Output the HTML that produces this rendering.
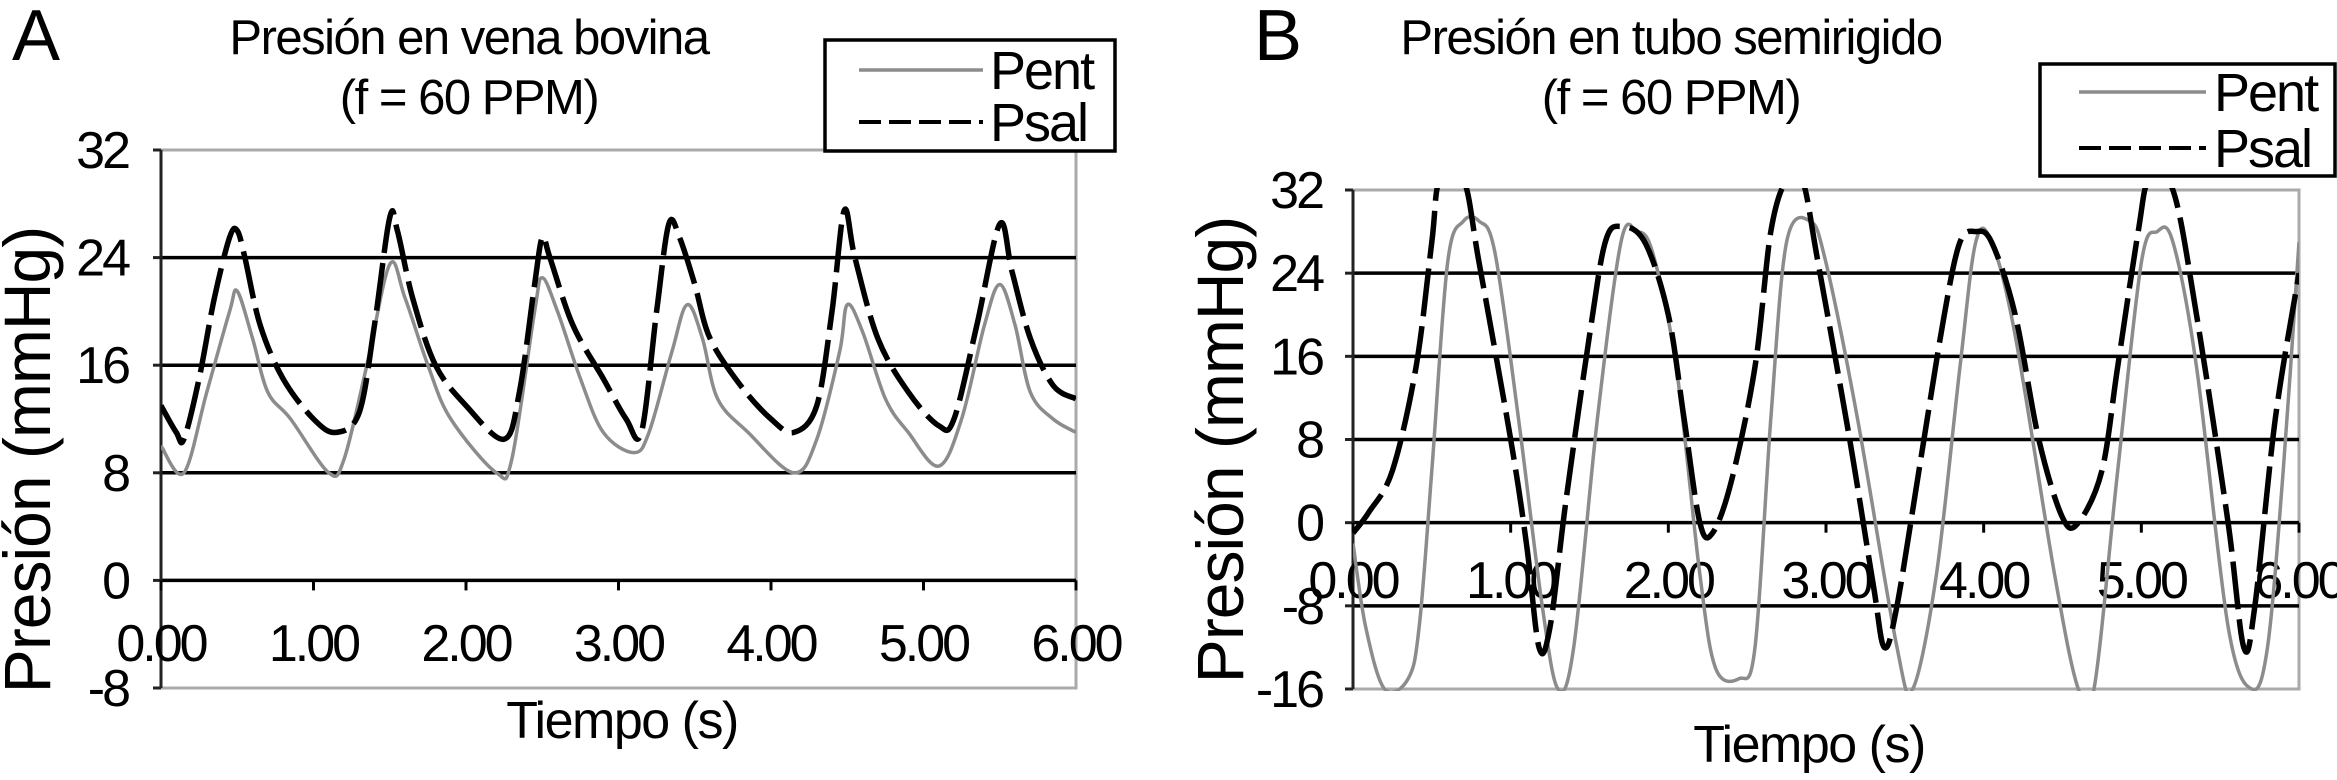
<!DOCTYPE html>
<html><head><meta charset="utf-8"><style>
html,body{margin:0;padding:0;background:#fff}
svg{display:block;font-family:"Liberation Sans",sans-serif}
</style></head><body>
<svg id="s" width="2337" height="780" viewBox="0 0 2337 780" xmlns="http://www.w3.org/2000/svg">
<g id="chartA"></g>
<g id="chartB"></g>
</svg>
<script>
// ---- Chart A data ----
const aPsalT=[0,0.1,0.15,0.25,0.35,0.45,0.5,0.55,0.65,0.8,1.0,1.15,1.3,1.4,1.5,1.55,1.65,1.8,2.0,2.25,2.35,2.45,2.5,2.55,2.7,2.9,3.05,3.15,3.25,3.33,3.4,3.5,3.6,3.8,4.0,4.15,4.3,4.4,4.48,4.55,4.7,4.9,5.1,5.2,5.35,5.5,5.58,5.7,5.85,6.0];
const aPsalV=[13,11,10.5,15,21,25.5,26,24,19,15,12,11,12.5,19,27,26,21,16,13,10.5,14,22,25.5,24,19,15,12,11,20,26.5,25.5,22,18,14.5,12,11,13,20,27.5,24,18,14,11.5,12,19,26.5,23,18,14.5,13.5];
const aPentT=[0,0.15,0.3,0.45,0.5,0.6,0.7,0.85,1.1,1.2,1.35,1.5,1.6,1.75,1.9,2.2,2.3,2.45,2.5,2.6,2.75,2.9,3.1,3.2,3.35,3.45,3.55,3.65,3.85,4.15,4.3,4.45,4.5,4.6,4.75,4.9,5.1,5.25,5.4,5.5,5.6,5.7,5.85,6.0];
const aPentV=[10,8,14,20,21.5,18,14,12,8,9,16,23.5,21,16,12,8,9,20,22.5,20,15,11,9.5,11,17,20.5,18,13.5,11,8,10.5,17,20.5,18.5,13.5,11,8.5,12,19,22,19,14,12,11];
const aYTicks=[32,24,16,8,0,-8];
const aXTicks=["0.00","1.00","2.00","3.00","4.00","5.00","6.00"];
// ---- Chart B data ----
const bPsalT=[0,0.1,0.25,0.4,0.5,0.55,0.7,0.8,1.0,1.1,1.18,1.25,1.35,1.5,1.6,1.7,1.85,2.0,2.1,2.2,2.28,2.4,2.55,2.65,2.75,2.85,2.95,3.15,3.3,3.37,3.45,3.6,3.75,3.85,3.95,4.05,4.2,4.35,4.5,4.6,4.75,4.85,4.98,5.05,5.2,5.35,5.55,5.65,5.72,5.85,6.0];
const bPsalV=[-1,1,5,15,27,33,33,25,8,-2,-12,-10,2,18,27,28.5,27,20,10,0,-1,4,15,28,33,33,25,8,-6,-12,-8,6,20,27,28,27,20,8,0.5,0,5,15,28,33,32,20,0,-12,-8,10,24];
const bPentT=[0,0.08,0.2,0.35,0.42,0.5,0.6,0.7,0.8,0.9,1.05,1.2,1.3,1.4,1.55,1.7,1.8,1.9,2.05,2.2,2.3,2.45,2.55,2.65,2.75,2.9,3.0,3.2,3.45,3.55,3.7,3.85,3.95,4.05,4.2,4.45,4.6,4.7,4.85,5.0,5.1,5.2,5.35,5.55,5.7,5.8,5.9,6.0];
const bPentV=[-2,-10,-16,-15,-10,5,25,29,29,26,10,-8,-16,-12,10,27,28,26,15,-5,-14,-15,-12,10,27,29,25,10,-12,-16,-5,15,27,27,18,-5,-16,-16,5,25,28,27,15,-10,-16,-12,5,27];
const bYTicks=[32,24,16,8,0,-8,-16];
const bXTicks=["0.00","1.00","2.00","3.00","4.00","5.00","6.00"];

const NS="http://www.w3.org/2000/svg";
function mk(p,tag,attrs,txt){const e=document.createElementNS(NS,tag);for(const k in attrs)e.setAttribute(k,attrs[k]);if(txt!==undefined)e.textContent=txt;p.appendChild(e);return e;}
function spline(pts){let d="M"+pts[0][0].toFixed(1)+","+pts[0][1].toFixed(1);
 for(let i=0;i<pts.length-1;i++){const p0=pts[Math.max(0,i-1)],p1=pts[i],p2=pts[i+1],p3=pts[Math.min(pts.length-1,i+2)];
  const c1x=p1[0]+(p2[0]-p0[0])/6,c1y=p1[1]+(p2[1]-p0[1])/6,c2x=p2[0]-(p3[0]-p1[0])/6,c2y=p2[1]-(p3[1]-p1[1])/6;
  d+=" C"+c1x.toFixed(1)+","+c1y.toFixed(1)+" "+c2x.toFixed(1)+","+c2y.toFixed(1)+" "+p2[0].toFixed(1)+","+p2[1].toFixed(1);}
 return d;}

function chart(g,o){
 const X=t=>o.x0+(o.x1-o.x0)*t/6;
 const Y=v=>o.yTop+(o.ymax-v)*(o.yBot-o.yTop)/(o.ymax-o.ymin);
 const cid="clip"+o.id;
 const defs=mk(g,"defs",{});const cp=mk(defs,"clipPath",{id:cid});mk(cp,"rect",{x:o.x0,y:o.yTop-2,width:o.x1-o.x0,height:o.yBot-o.yTop+4});
 let el=mk(g,"rect",{x:o.x0,y:o.yTop,width:o.x1-o.x0,height:o.yBot-o.yTop,fill:"none",stroke:"#aaa","stroke-width":3});
 
 
 for(const v of o.yTicks){
  const y=Y(v);
  if(v<o.ymax&&v>o.ymin){
   el=mk(g,"line",{x1:o.x0,x2:o.x1,y1:y,y2:y,stroke:"#000","stroke-width":3.5});
   
   
  }
  el=mk(g,"line",{x1:o.x0-8,x2:o.x0,y1:y,y2:y,stroke:"#222","stroke-width":3});
  
  
  el=mk(g,"text",{x:o.yLabX,y:y+18,"text-anchor":"end","font-size":52,"letter-spacing":-3},String(v));
  
  
 }
 el=mk(g,"line",{x1:o.x0,x2:o.x0,y1:o.yTop,y2:o.yBot,stroke:"#222","stroke-width":3});
 
 
 const y0=Y(0);
 o.xTicks.forEach((lab,i)=>{
  const x=X(i);
  el=mk(g,"line",{x1:x,x2:x,y1:y0,y2:y0+10,stroke:"#000","stroke-width":3});
  
  
  el=mk(g,"text",{x:x,y:o.xLabY+18,"text-anchor":"middle","font-size":52,"letter-spacing":-3},lab);
  
  
 });
 const cg=mk(g,"g",{"clip-path":"url(#"+cid+")"});
 el=mk(cg,"path",{d:spline(o.pentT.map((t,i)=>[X(t),Y(o.pentV[i])])),fill:"none",stroke:"#8c8c8c","stroke-width":3.5});
 
 
 el=mk(cg,"path",{d:spline(o.psalT.map((t,i)=>[X(t),Y(o.psalV[i])])),fill:"none",stroke:"#000","stroke-width":5.5,"stroke-dasharray":"48 10"});
 
 
 el=mk(g,"text",{x:o.letterX,y:o.letterY,"font-size":72},o.letter);
 
 
 el=mk(g,"text",{x:o.titleX,y:54,"text-anchor":"middle","font-size":49,"letter-spacing":-1.5},o.title);
 
 
 el=mk(g,"text",{x:o.titleX,y:114,"text-anchor":"middle","font-size":49,"letter-spacing":-1.5},"(f = 60 PPM)");
 
 
 el=mk(g,"text",{x:o.ytX,y:o.ytY,"text-anchor":"middle","font-size":66,"letter-spacing":-1,transform:"rotate(-90 "+o.ytX+" "+o.ytY+")"},"Presión (mmHg)");
 
 
 el=mk(g,"text",{x:o.xtX,y:o.xtY,"text-anchor":"middle","font-size":52,"letter-spacing":-1.5},"Tiempo (s)");
 
 
 const L=o.leg;
 el=mk(g,"rect",{x:L.x,y:L.y,width:L.w,height:L.h,fill:"#fff",stroke:"#000","stroke-width":3.5});
 
 
 el=mk(g,"line",{x1:L.lx1,x2:L.lx2,y1:L.y1,y2:L.y1,stroke:"#8c8c8c","stroke-width":3.5});
 
 
 el=mk(g,"text",{x:L.tx,y:L.y1+19,"font-size":54,"letter-spacing":-2},"Pent");
 
 
 el=mk(g,"line",{x1:L.lx1,x2:L.lx2,y1:L.y2,y2:L.y2,stroke:"#000","stroke-width":4,"stroke-dasharray":"22 8"});
 
 
 el=mk(g,"text",{x:L.tx,y:L.y2+19,"font-size":54,"letter-spacing":-2},"Psal");
 
 
}
chart(document.getElementById("chartA"),{id:"A",x0:161,x1:1076,yTop:150,yBot:688,ymax:32,ymin:-8,yTicks:aYTicks,xTicks:aXTicks,
 yLabX:128,xLabY:643,pentT:aPentT,pentV:aPentV,psalT:aPsalT,psalV:aPsalV,letter:"A",letterX:12,letterY:60,
 title:"Presión en vena bovina",titleX:469,ytX:50,ytY:460,xtX:622,xtY:738,
 leg:{x:825,y:40,w:290,h:111,lx1:859,lx2:983,tx:990,y1:70,y2:122}});
chart(document.getElementById("chartB"),{id:"B",x0:1353,x1:2299,yTop:190,yBot:689,ymax:32,ymin:-16,yTicks:bYTicks,xTicks:bXTicks,
 yLabX:1322,xLabY:580,pentT:bPentT,pentV:bPentV,psalT:bPsalT,psalV:bPsalV,letter:"B",letterX:1254,letterY:60,
 title:"Presión en tubo semirigido",titleX:1671,ytX:1243,ytY:450,xtX:1809,xtY:762,
 leg:{x:2040,y:64,w:295,h:112,lx1:2079,lx2:2206,tx:2214,y1:92,y2:148}});
</script>
</body></html>
